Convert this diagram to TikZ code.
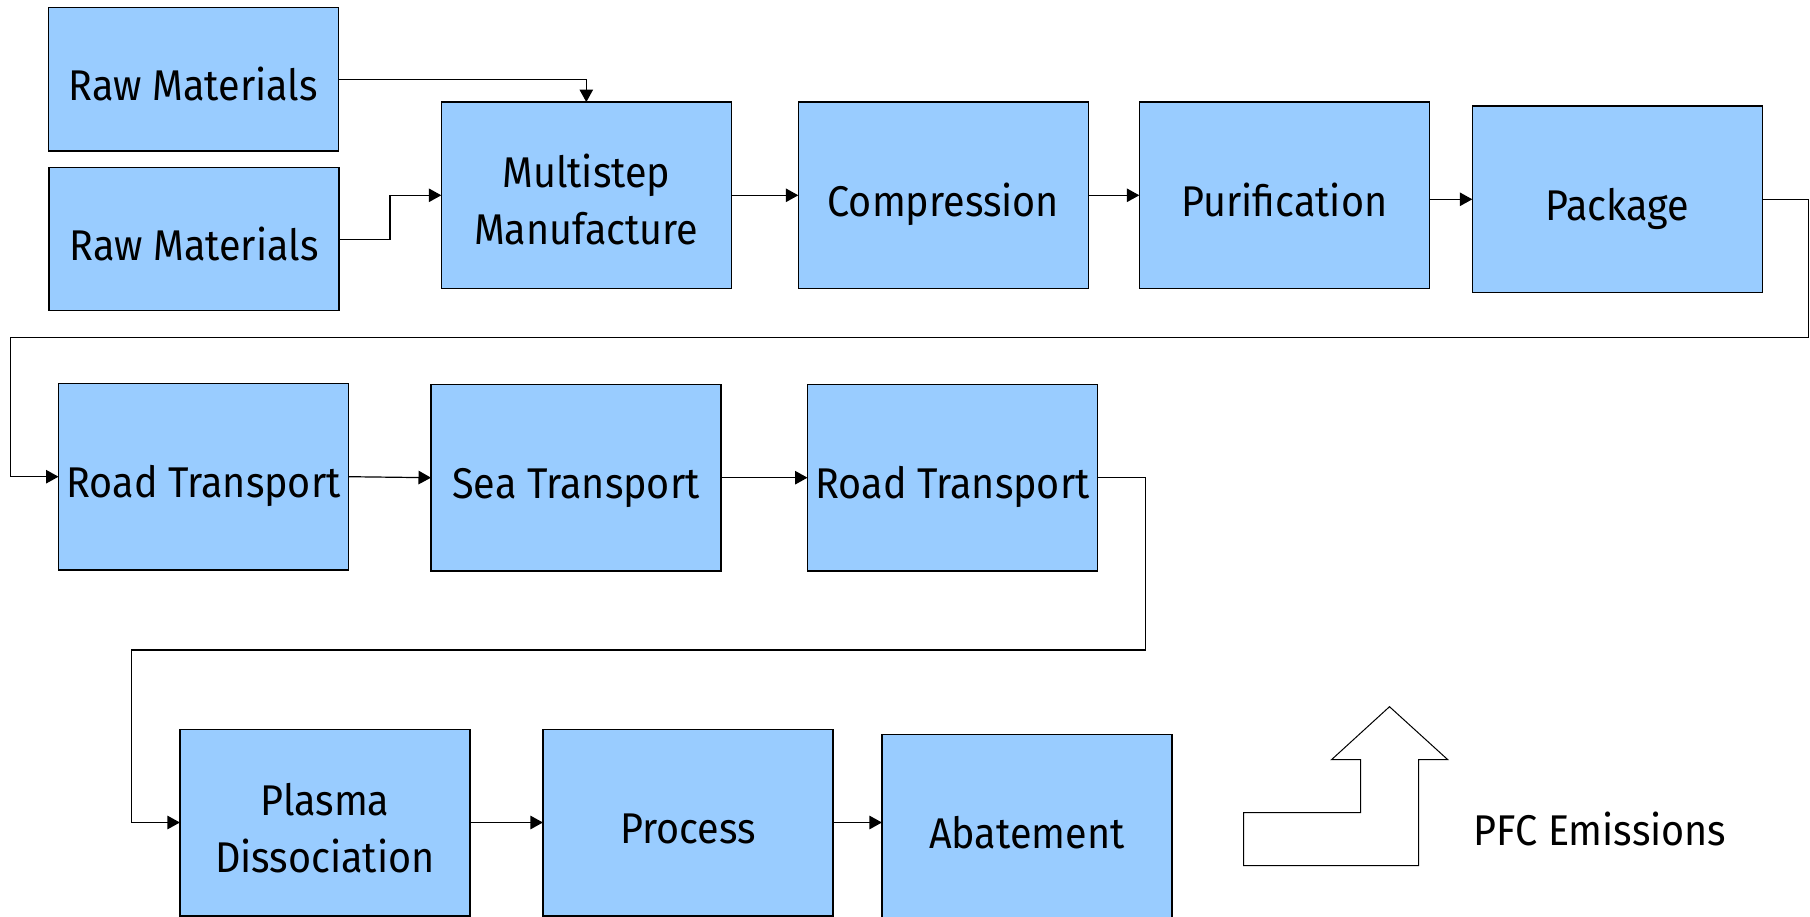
\documentclass[tikz,border=0pt]{standalone}
\usepackage{fontspec}
\setmainfont{Fira Sans}[FakeStretch=0.92]
\usetikzlibrary{positioning,arrows.meta}
\definecolor{boxblue}{HTML}{99CCFF}

\begin{document}
\begin{tikzpicture}[x=1pt, y=-1pt, font=\fontsize{43}{57}\selectfont,
  box/.style={draw, fill=boxblue, line width=1.5pt, align=center, inner sep=0pt, outer sep=0pt, minimum width=290pt, minimum height=186.5pt, text height=42pt, text depth=0pt},
  twoline/.style={text height=99pt},
  arr/.style={line width=1.2pt, -{Triangle[length=12.5pt, width=13.5pt]}}]
\useasboundingbox (0,0) rectangle (1810,917);
\node[box, minimum height=143.4pt] (rma) at (193.4,79.3) {Raw Materials};
\node[box, minimum height=143pt] (rmb) at (194,239.2) {Raw Materials};
\node[box, twoline] (mm) at (586.3,195.3) {Multistep\\Manufacture};
\node[box, right=67pt of mm] (comp) {Compression};
\node[box, right=51pt of comp] (pur) {Purification};
\node[box, right=43pt of pur, yshift=-4pt] (pack) {Package};
\node[box] (roada) at (203.5,476.7) {Road Transport};
\node[box, right=82.5pt of roada, yshift=-1pt] (sea) {Sea Transport};
\node[box, right=86.5pt of sea] (roadb) {Road Transport};
\node[box, twoline] (plasma) at (324.9,822.5) {Plasma\\Dissociation};
\node[box, right=73pt of plasma] (proc) {Process};
\node[box, right=49pt of proc, yshift=-5pt] (abate) {Abatement};
\coordinate (turna) at (10.5,337.7);
\coordinate (turnb) at (131.6,650);
\draw[arr] (rma.east) -| (mm.north);
\draw[arr] (rmb.east) -- ++(51,0) |- (mm.west);
\draw[arr] (mm.east) -- (comp.west);
\draw[arr] (comp.east) -- (pur.west);
\draw[arr] (pack.west -| pur.east) -- (pack.west);
\draw[arr] (pack.east) -- ++(46,0) |- (turna) |- (roada.west);
\draw[arr] (roada.east) -- (sea.west);
\draw[arr] (sea.east) -- (roadb.west);
\draw[arr] (roadb.east) -- ++(48,0) |- (turnb) |- (plasma.west);
\draw[arr] (plasma.east) -- (proc.west);
\draw[arr] (proc.east) -- (proc.east -| abate.west);
\draw[line width=1pt] (1389.5,706.7) -- (1447.8,759.7) -- (1418.6,759.7) -- (1418.6,865.7)
  -- (1243.6,865.7) -- (1243.6,812.7) -- (1360.7,812.7) -- (1360.7,759.7) -- (1331.5,759.7) -- cycle;
\node[anchor=base west, inner sep=0pt] (pfc) at (1473.5,845.7) {PFC Emissions};
\end{tikzpicture}
\end{document}
